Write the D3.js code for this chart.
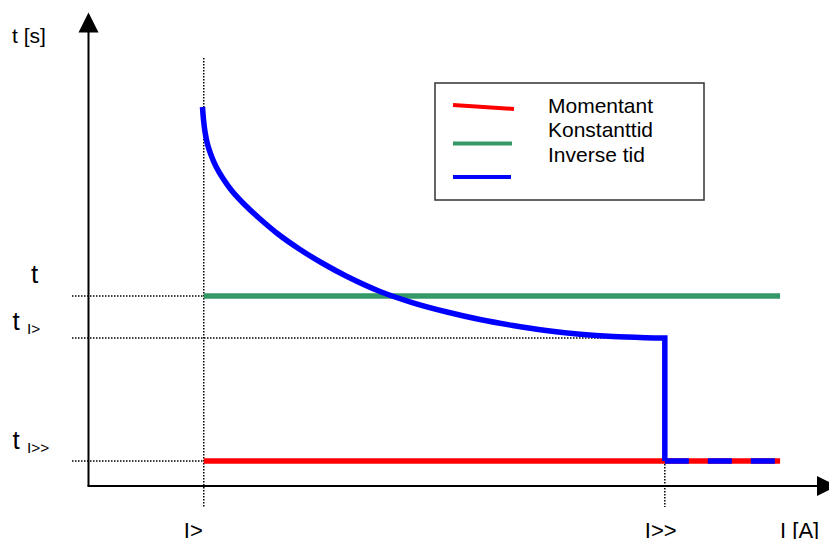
<!DOCTYPE html>
<html>
<head>
<meta charset="utf-8">
<script src="https://cdn.jsdelivr.net/npm/d3@7"></script>
<style>
  html, body { margin: 0; padding: 0; background: #fff; }
  svg { display: block; font-family: "Liberation Sans", Arial, sans-serif; }
</style>
</head>
<body>
<svg id="chart" width="829" height="539"></svg>
<script>
// ---- data ----
const seriesNames = ["Momentant", "Konstanttid", "Inverse tid"];
const seriesColors = ["#ff0000", "#339966", "#0000ff"];
const currentTicks = [1, 5, 6];                 // I>, I>>, end of plotted range
const currentLabels = ["I>", "I>>", "I [A]"];
const timeLevels = [3.80, 2.96, 0.50];          // t, t_I>, t_I>>
const timeSubs = ["", "I>", "I>>"];
const inverseI = [0.989, 0.998, 1.011, 1.032, 1.063, 1.106, 1.167, 1.245, 1.349, 1.479, 1.644, 1.835, 2.034, 2.243, 2.529, 2.815, 3.110, 3.396, 3.682, 3.969, 4.264, 4.550, 4.837, 5.0];
const inverseT = [7.58, 7.32, 7.08, 6.84, 6.62, 6.39, 6.15, 5.90, 5.64, 5.36, 5.04, 4.73, 4.45, 4.19, 3.89, 3.664, 3.48, 3.33, 3.21, 3.11, 3.034, 2.988, 2.966, 2.96];

// ---- scales ----
const svg = d3.select("#chart");
const x = d3.scaleLinear().domain([0, 6.42]).range([88.5, 828.5]);
const y = d3.scaleLinear().domain([0, 9.46]).range([486, 13]);

const I1 = currentTicks[0], I2 = currentTicks[1], Iend = currentTicks[2];
const [tConst, tI1, tI2] = timeLevels;

// ---- helpers ----
const dot = { "stroke": "#000", "stroke-width": 1.5, "stroke-dasharray": "1.5 1.5", "fill": "none" };
function line(x1, y1, x2, y2, attrs) {
  const l = svg.append("line").attr("x1", x1).attr("y1", y1).attr("x2", x2).attr("y2", y2);
  Object.entries(attrs).forEach(([k, v]) => l.attr(k, v));
  return l;
}
function label(px, py, str, size, sx) {
  return svg.append("text")
    .attr("transform", `translate(${px},${py}) scale(${sx || 1},1)`)
    .attr("font-size", size).attr("fill", "#000").text(str);
}

// ---- dotted guide lines ----
line(x(I1), 58, x(I1), 507, dot);
line(x(I2), y(tI1), x(I2), 507, dot);
line(72, y(tConst), x(I1), y(tConst), dot);
line(72, y(tI1), x(I2), y(tI1), dot);
line(72, y(tI2), x(I1), y(tI2), dot);

// ---- axes ----
line(x(0), y(0), x(0), 30, { stroke: "#000", "stroke-width": 2 });
line(x(0) - 1, y(0), 818, y(0), { stroke: "#000", "stroke-width": 2 });
svg.append("path").attr("d", `M${x(0)},12.5 L${x(0) - 10},32.5 L${x(0) + 10},32.5 Z`).attr("fill", "#000");
svg.append("path").attr("d", `M837,${y(0)} L817,${y(0) - 10} L817,${y(0) + 10} Z`).attr("fill", "#000");

// ---- series ----
// Momentant (red)
line(x(I1), y(tI2), x(Iend), y(tI2), { stroke: seriesColors[0], "stroke-width": 5.5 });
// Konstanttid (green)
line(x(I1), y(tConst), x(Iend), y(tConst), { stroke: seriesColors[1], "stroke-width": 5.5 });
// Inverse tid (blue)
const inv = inverseI.map((d, i) => [d, inverseT[i]]);
const lineGen = d3.line().x(d => x(d[0])).y(d => y(d[1])).curve(d3.curveCatmullRom.alpha(0.5));
svg.append("path")
  .attr("d", lineGen(inv) + ` L${x(I2)},${y(tI2)}`)
  .attr("fill", "none").attr("stroke", seriesColors[2]).attr("stroke-width", 5.5)
  .attr("stroke-linejoin", "miter");
line(x(I2), y(tI2), x(Iend) - 5, y(tI2), { stroke: seriesColors[2], "stroke-width": 5.5, "stroke-dasharray": "24 19" });

// ---- legend ----
svg.append("rect").attr("x", 435).attr("y", 83).attr("width", 269).attr("height", 117)
  .attr("fill", "none").attr("stroke", "#333").attr("stroke-width", 1.5);
line(453, 105, 514, 109, { stroke: seriesColors[0], "stroke-width": 4 });
line(453, 143.5, 512, 143.5, { stroke: seriesColors[1], "stroke-width": 4 });
line(453, 177, 511, 177, { stroke: seriesColors[2], "stroke-width": 4 });
seriesNames.forEach((n, i) => label(548, 113 + i * 24.3, n, 20, 1.05));

// ---- axis labels ----
label(12, 43, "t [s]", 21);
const tPos = [[31, 283], [12.5, 330], [12.5, 449]];
timeLevels.forEach((t, i) => {
  label(tPos[i][0], tPos[i][1], "t", 26);
  if (timeSubs[i]) label(27, tPos[i][1] + 3.5, timeSubs[i], 14, 1.1);
});
const labelOffsets = [-20, -20, 0];
currentTicks.forEach((c, i) => label(x(c) + labelOffsets[i], 538, currentLabels[i], 22));
</script>
</body>
</html>
